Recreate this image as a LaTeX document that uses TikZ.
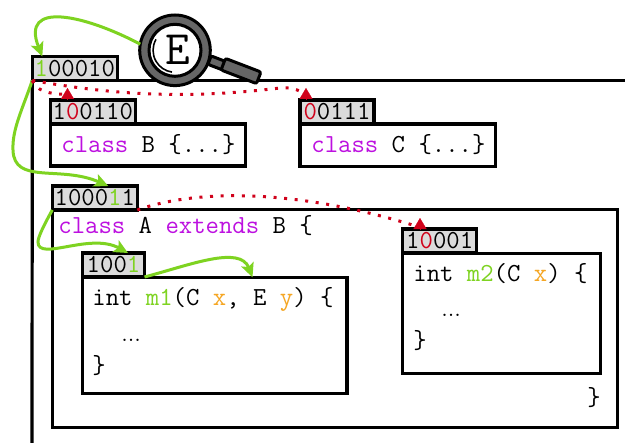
\documentclass[tikz,border=0pt]{standalone}
\usetikzlibrary{arrows.meta}
\definecolor{linkgreen}{HTML}{7ED321}
\definecolor{linkred}{HTML}{D0021B}
\definecolor{keypurple}{HTML}{BD10E0}
\definecolor{argorange}{HTML}{F5A623}
\definecolor{tagfill}{HTML}{DBDBDB}
\definecolor{lensgray}{HTML}{666666}
\newcommand{\kw}[1]{\textcolor{keypurple}{#1}}
\newcommand{\gn}[1]{\textcolor{linkgreen}{#1}}
\newcommand{\rd}[1]{\textcolor{linkred}{#1}}
\newcommand{\og}[1]{\textcolor{argorange}{#1}}
\tikzset{
	base/.style={line width=1.6pt},
	boxnode/.style={draw, base, anchor=north west, inner sep=0pt, outer sep=0pt, fill=white},
	tagnode/.style={draw, base, anchor=north west, fill=tagfill, inner sep=0pt, outer sep=0pt, minimum height=12pt, font=\fontsize{13}{15}\selectfont\ttfamily},
	code/.style={anchor=base west, inner sep=0pt, font=\fontsize{13}{15}\selectfont\ttfamily},
	smalldots/.style={anchor=base west, inner sep=0pt, font=\fontsize{12}{14}\selectfont\rmfamily},
	lensring/.style={circle, draw, line width=1.5pt, inner sep=0pt, outer sep=0pt},
	handle/.style={draw, line width=1.5pt, fill=lensgray, rotate=-21, inner sep=0pt, rounded corners=1pt},
	greenlink/.style={line width=1.5pt, linkgreen, -{Stealth[length=7pt,width=6.5pt,inset=1.5pt]}},
	reddots/.style={line width=1.5pt, linkred, dash pattern=on 1.5pt off 3.8pt},
	redtip/.style={linkred, line width=0.1pt, -{Triangle[length=5.5pt,width=6.5pt]}}
}
\begin{document}
\begin{tikzpicture}[x=0.5pt, y=-0.5pt]
	\useasboundingbox (0,0) rectangle (625,443);
	%package line
	\coordinate (lineright) at (625,80.5);
	\coordinate (linebottom) at (32,443);

	%boxes
	\node[boxnode, minimum width=97.7pt, minimum height=21pt] (boxB) at (50.3,124) {};
	\node[boxnode, minimum width=97.8pt, minimum height=21.3pt] (boxC) at (300,124) {};
	\node[boxnode, minimum width=282.5pt, minimum height=109pt] (boxA) at (52.3,209.8) {};
	\node[boxnode, minimum width=132.2pt, minimum height=58pt] (boxMone) at (82.5,277.3) {};
	\node[boxnode, minimum width=98.7pt, minimum height=60pt] (boxMtwo) at (402.7,253.5) {};

	%tags
	\node[tagnode, minimum width=42.5pt] (tagtop) at (32.3,56.5) {\gn{1}00010};
	\node[tagnode, minimum width=42.5pt] (tagB) at (50.3,100) {1\rd{0}0110};
	\node[tagnode, minimum width=37pt] (tagC) at (300,100) {\rd{0}0111};
	\node[tagnode, minimum width=42.5pt] (tagA) at (52.3,186) {1000\gn{1}1};
	\node[tagnode, minimum width=31pt] (tagMone) at (82.5,253) {100\gn{1}};
	\node[tagnode, minimum width=37pt] (tagMtwo) at (402.7,229) {1\rd{0}001};
	\draw[base] (tagtop.south west) -- (linebottom);
	\draw[base] (tagtop.south west) -- (lineright);

	%code
	\node[code] (textB) at (61,153) {\kw{class} B \{...\}};
	\node[code] (textC) at (311,153) {\kw{class} C \{...\}};
	\node[code] (textA) at (58,233) {\kw{class} A \kw{extends} B \{};
	\node[code] (textAend) at (587,405) {\}};
	\node[code] (textMone) at (92,305) {int \gn{m1}(C \og{x}, E \og{y}) \{};
	\node[smalldots] (dotsMone) at (121,341) {...};
	\node[code] (endMone) at (92,373) {\}};
	\node[code] (textMtwo) at (413,281) {int \gn{m2}(C \og{x}) \{};
	\node[smalldots] (dotsMtwo) at (441,316) {...};
	\node[code] (endMtwo) at (413,348) {\}};

	%magnifier
	\node[handle, minimum width=8pt, minimum height=4.5pt] (neck) at (217,63) {};
	\node[handle, minimum width=19pt, minimum height=6.2pt] (grip) at (241,71) {};
	\node[lensring, fill=lensgray, minimum size=35.3pt] (lens) at (175,50.3) {};
	\node[lensring, fill=white, minimum size=26pt] (lensglass) at (175,50.3) {};
	\draw[line width=0.8pt] (156,39.3) arc[start angle=-150, end angle=-262, radius=22];
	\node[inner sep=0pt, font=\fontsize{24}{24}\selectfont\ttfamily] (letterE) at (178,50) {E};

	%green links
	\draw[greenlink] (lens.170) .. controls (85,15) and (20,0) .. ([xshift=5pt]tagtop.north west);
	\draw[greenlink] (tagtop.south west) .. controls (22,110) and (12,130) .. (13,150) .. controls (14,185) and (60,165) .. ([xshift=28pt]tagA.north west);
	\draw[greenlink] (tagA.south west) .. controls (44,225) and (38,237) .. (38,242) .. controls (38,262) and (90,232) .. ([xshift=22.75pt]tagMone.north west);
	\draw[greenlink] (tagMone.south east) .. controls (190,265) and (240,245) .. ([xshift=85pt]boxMone.north west);

	%red links
	\draw[reddots] (tagtop.south west) .. controls (110,94) and (180,100) .. (280,88) .. controls (288,87) and (298,89) .. ([xshift=2.5pt,yshift=3pt]tagC.north west);
	\draw[reddots] (tagtop.south west) .. controls (35,90) and (50,95) .. ([xshift=8pt,yshift=3pt]tagB.north west);
	\draw[reddots] (tagA.south east) .. controls (200,188) and (300,190) .. ([xshift=6.6pt,yshift=1.5pt]tagMtwo.north west);
	\draw[redtip] ([xshift=8.6pt]tagB.north west) -- ([xshift=8.6pt,yshift=6pt]tagB.north west);
	\draw[redtip] ([xshift=3pt]tagC.north west) -- ([xshift=3pt,yshift=6pt]tagC.north west);
	\draw[redtip] ([xshift=8.65pt]tagMtwo.north west) -- ([xshift=8.65pt,yshift=5.5pt]tagMtwo.north west);
\end{tikzpicture}
\end{document}
